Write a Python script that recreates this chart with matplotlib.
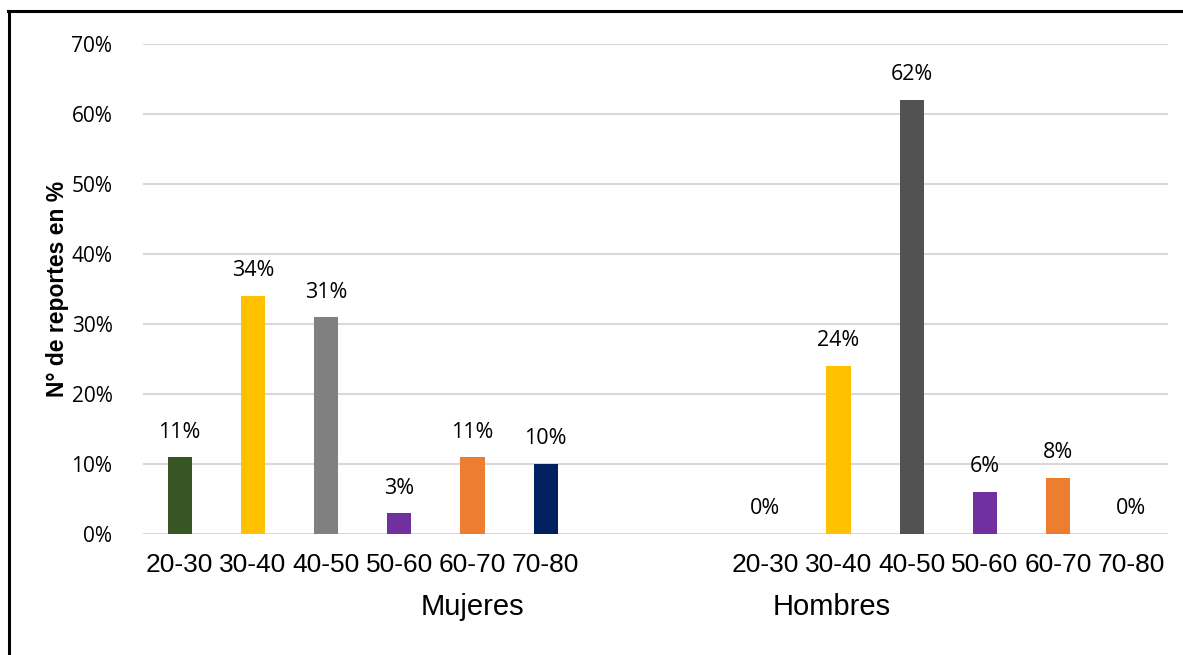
import matplotlib
matplotlib.use("Agg")
import matplotlib.pyplot as plt
from matplotlib.lines import Line2D
import matplotlib.transforms as mtransforms

age_groups = ["20-30", "30-40", "40-50", "50-60", "60-70", "70-80"]
mujeres = [11, 34, 31, 3, 11, 10]
hombres = [0, 24, 62, 6, 8, 0]
mujeres_colors = ["#375623", "#FFC000", "#808080", "#7030A0", "#ED7D31", "#002060"]
hombres_colors = ["#375623", "#FFC000", "#525252", "#7030A0", "#ED7D31", "#002060"]
group_names = ["Mujeres", "Hombres"]
y_ticks = [0, 10, 20, 30, 40, 50, 60, 70]

label_font = "Liberation Sans"
num_font = "Open Sans"

fig = plt.figure(figsize=(11.83, 6.55), dpi=100)
ax = fig.add_axes([143 / 1183, 121 / 655, 1025 / 1183, 490 / 655])

x_m = list(range(0, 6))
x_h = list(range(8, 14))
bar_w = 0.33

ax.bar(x_m, mujeres, width=bar_w, color=mujeres_colors, zorder=3)
ax.bar(x_h, hombres, width=bar_w, color=hombres_colors, zorder=3)

for xs, vals in ((x_m, mujeres), (x_h, hombres)):
    for x, v in zip(xs, vals):
        ax.annotate(f"{v}%", (x, v), xytext=(0, 18), textcoords="offset points",
                    ha="center", va="center", fontsize=15.5, family=num_font,
                    color="#000000")

ax.set_xlim(-0.5, 13.5)
ax.set_ylim(0, 70)
ax.set_yticks(y_ticks)
ax.set_yticklabels([f"{t}%" for t in y_ticks], family=num_font, fontsize=15)
ax.yaxis.grid(True, color="#D9D9D9", linewidth=1.5, zorder=0)
ax.set_axisbelow(True)

ax.set_xticks(x_m + x_h)
ax.set_xticklabels(age_groups + age_groups, family=label_font, fontsize=19)
ax.tick_params(axis="x", length=0, pad=14)
ax.tick_params(axis="y", length=0, pad=22)

for s in ax.spines.values():
    s.set_visible(False)

ax.set_ylabel("N° de reportes en %", family=label_font, fontsize=16.5,
              fontweight="bold")
ax.yaxis.set_label_coords(-74 / 1025, 0.5)

trans = mtransforms.blended_transform_factory(ax.transData, ax.transAxes)
ax.text(4.0, -73 / 490, group_names[0], transform=trans, ha="center", va="center",
        family=label_font, fontsize=21)
ax.text(8.9, -73 / 490, group_names[1], transform=trans, ha="center", va="center",
        family=label_font, fontsize=21)

# outer frame: top and left edges
fig.add_artist(Line2D([8 / 1183, 1.0], [1 - 10.5 / 655, 1 - 10.5 / 655],
                      transform=fig.transFigure, color="black", linewidth=2.2))
fig.add_artist(Line2D([8.5 / 1183, 8.5 / 1183], [0.0, 1 - 10.5 / 655],
                      transform=fig.transFigure, color="black", linewidth=2.2))

fig.savefig("out.png", dpi=100)
